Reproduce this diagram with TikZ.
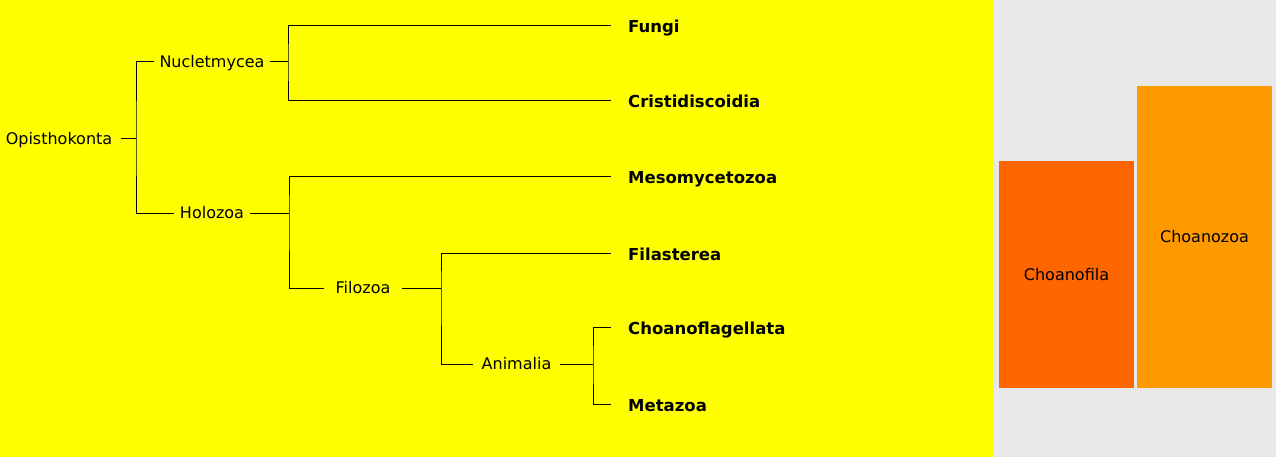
\documentclass[tikz,border=0pt]{standalone}
\usepackage{fontspec}
\setmainfont{DejaVu Sans}
\definecolor{bgyellow}{HTML}{FFFF00}
\definecolor{bggray}{HTML}{E8E8E8}
\definecolor{choanofila}{HTML}{FF6600}
\definecolor{choanozoa}{HTML}{FF9900}
\tikzset{
  lbl/.style={inner ysep=0pt, text height=11.7pt, text depth=0pt, font=\fontsize{16pt}{19pt}\selectfont},
  clade/.style={lbl, inner xsep=#1},
  clade/.default=6pt,
  leaf/.style={inner ysep=0pt, text height=14pt, text depth=0pt, anchor=west, inner xsep=17pt, font=\fontsize{16.5pt}{19pt}\selectfont\bfseries},
  branch/.style={draw=black, line width=1pt},
  panel/.style={inner sep=0pt, font=\fontsize{16pt}{19pt}\selectfont}
}
\begin{document}
\begin{tikzpicture}[x=1pt,y=-1pt]
\useasboundingbox (0,0) rectangle (1276,457);
\fill[bggray] (0,0) rectangle (1276,457);
\fill[bgyellow] (0,0) rectangle (993,457);

% internal clades
\node[clade=9pt] (opis) at (59,139) {Opisthokonta};
\node[clade=5pt] (nuc) at (212,62) {Nucletmycea};
\node[clade=6pt] (hol) at (212,213) {Holozoa};
\node[clade=11.5pt] (filo) at (363,288) {Filozoa};
\node[clade=8pt] (anim) at (516.5,364) {Animalia};

% leaves
\node[leaf] (fungi) at (611,26) {Fungi};
\node[leaf] (cris) at (611,101) {Cristidiscoidia};
\node[leaf] (meso) at (611,177) {Mesomycetozoa};
\node[leaf] (fila) at (611,253) {Filasterea};
\node[leaf] (choano) at (611,327) {Choanoflagellata};
\node[leaf] (meta) at (611,404) {Metazoa};

% junctions
\coordinate (jO) at (136,139);
\coordinate (jN) at (288,62);
\coordinate (jH) at (289,213);
\coordinate (jF) at (441,288);
\coordinate (jA) at (593,364);

\draw[branch] (opis.east) -- (jO);
\draw[branch] (nuc.west) -| (jO) |- (hol.west);
\draw[branch] (nuc.east) -- (jN);
\draw[branch] (fungi.west) -| (jN) |- (cris.west);
\draw[branch] (hol.east) -- (jH);
\draw[branch] (meso.west) -| (jH) |- (filo.west);
\draw[branch] (filo.east) -- (jF);
\draw[branch] (fila.west) -| (jF) |- (anim.west);
\draw[branch] (anim.east) -- (jA);
\draw[branch] (choano.west) -| (jA) |- (meta.west);

% side panels
\node[panel, fill=choanofila, minimum width=135pt, minimum height=227pt] (cfila) at (1066.5,274.5) {Choanofila};
\node[panel, fill=choanozoa, minimum width=135pt, minimum height=302pt] (czoa) at (1204.5,237) {Choanozoa};
\end{tikzpicture}
\end{document}
